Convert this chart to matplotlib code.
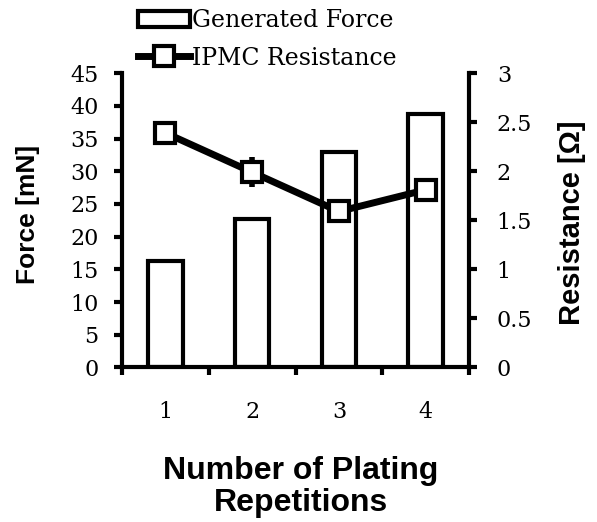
import numpy as np
import matplotlib
matplotlib.use('Agg')
import matplotlib.pyplot as plt
from matplotlib.ticker import FixedLocator, NullFormatter

# Data
repetitions = [1, 2, 3, 4]
rep_labels = ['1', '2', '3', '4']
force = [16.3, 22.7, 33.0, 38.8]          # mN
resistance = [2.39, 1.99, 1.59, 1.81]     # Ohm
resistance_err = [0.08, 0.15, 0.10, 0.10]

serif = 'DejaVu Serif'
sans = 'Liberation Sans'

fig = plt.figure(figsize=(5.97, 5.22), dpi=100)
ax = fig.add_axes([0.2044, 0.2960, 0.5812, 0.5640])

bars = ax.bar(repetitions, force, width=0.4, facecolor='white',
              edgecolor='black', linewidth=3, label='Generated Force', zorder=2)
ax.set_xlim(0.5, 4.5)
ax.set_ylim(0, 45)
ax.set_yticks(np.arange(0, 46, 5))
ax.xaxis.set_major_locator(FixedLocator([0.5, 1.5, 2.5, 3.5, 4.5]))
ax.xaxis.set_major_formatter(NullFormatter())
ax.xaxis.set_minor_locator(FixedLocator(repetitions))
ax.set_xticklabels(rep_labels, minor=True)
ax.tick_params(axis='x', which='major', direction='out', length=6, width=3)
ax.tick_params(axis='x', which='minor', length=0, pad=24, labelsize=16)
ax.tick_params(axis='y', direction='out', length=6, width=3, labelsize=16, pad=11)
for lab in ax.get_xticklabels(minor=True) + ax.get_yticklabels():
    lab.set_fontfamily(serif)
for side in ['left', 'bottom']:
    ax.spines[side].set_linewidth(3)
ax.spines['top'].set_visible(False)
ax.spines['right'].set_visible(False)

ax2 = ax.twinx()
line = ax2.errorbar(repetitions, resistance, yerr=resistance_err, color='black',
                    linewidth=5, elinewidth=4, capsize=0, marker='s',
                    markersize=14, markerfacecolor='white', markeredgewidth=3,
                    label='IPMC Resistance', zorder=3)
ax2.set_ylim(0, 3)
ax2.set_yticks([0, 0.5, 1, 1.5, 2, 2.5, 3])
ax2.set_yticklabels(['0', '0.5', '1', '1.5', '2', '2.5', '3'])
ax2.tick_params(axis='y', direction='out', length=6, width=3, labelsize=16, pad=14)
for lab in ax2.get_yticklabels():
    lab.set_fontfamily(serif)
ax2.spines['right'].set_linewidth(3)
ax2.spines['top'].set_visible(False)
ax2.spines['left'].set_visible(False)
ax2.spines['bottom'].set_visible(False)

ax.set_ylabel('Force [mN]', fontfamily=sans, fontweight='bold', fontsize=19)
ax.yaxis.set_label_coords(-0.237, 0.52)
ax2.set_ylabel('Resistance [Ω]', fontfamily=sans, fontweight='bold', fontsize=21)
ax2.yaxis.set_label_coords(1.257, 0.49)
ax.set_xlabel('Number of Plating\nRepetitions', fontfamily=sans, fontweight='bold',
              fontsize=23, linespacing=1.08)
ax.xaxis.set_label_coords(0.515, -0.30)

fig.legend(handles=[bars, line], loc='upper left', bbox_to_anchor=(0.216, 1.0),
           frameon=False, prop={'family': serif, 'size': 17}, handlelength=2.2,
           handletextpad=0.05, labelspacing=0.6, borderaxespad=0)

fig.savefig('out.png', dpi=100)
